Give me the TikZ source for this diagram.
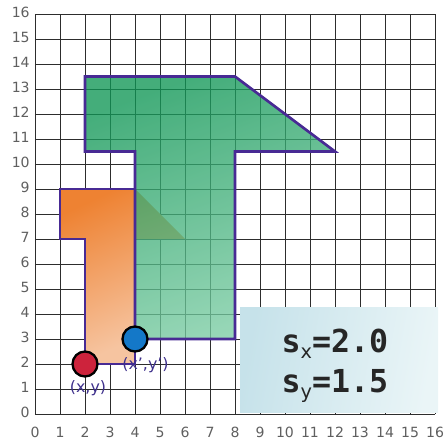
\documentclass[tikz,border=0pt]{standalone}
\usepackage{fontspec}
\setsansfont{DejaVu Sans}
\setmonofont{DejaVu Sans Mono}
\usetikzlibrary{positioning}
\definecolor{gridgray}{RGB}{45, 45, 45}
\definecolor{ticktext}{RGB}{95, 95, 95}
\definecolor{edgepurple}{RGB}{72, 42, 148}
\definecolor{orangedark}{RGB}{238, 130, 50}
\definecolor{orangelight}{RGB}{246, 196, 160}
\definecolor{greendark}{RGB}{15, 150, 85}
\definecolor{greenlight}{RGB}{125, 205, 165}
\definecolor{boxblue}{RGB}{198, 226, 234}
\definecolor{boxlight}{RGB}{234, 245, 247}
\definecolor{dotred}{RGB}{205, 35, 60}
\definecolor{dotblue}{RGB}{20, 120, 200}
\definecolor{labelpurple}{RGB}{62, 48, 140}

\tikzset{
  gridline/.style={gridgray, line width=0.55pt},
  ticklabel/.style={ticktext, font=\sffamily\fontsize{8}{8}\selectfont, inner sep=0pt},
  outline/.style={edgepurple, line width=1.5pt, line join=miter},
  dot/.style={circle, draw=black, line width=1.3pt, minimum size=0.5cm, inner sep=0pt},
  dotlabel/.style={labelpurple, font=\sffamily\fontsize{9}{9}\selectfont, inner sep=0pt},
  scaletext/.style={black!85, font=\ttfamily\bfseries\fontsize{18}{18}\selectfont, inner sep=0pt}
}

\begin{document}
\begin{tikzpicture}[x=0.5cm, y=0.5cm]
  \useasboundingbox (-1.4,-1.28) rectangle (16.4,16.56);

  % grid and numbers
  \draw[gridline, step=0.5cm] (0,0) grid (16,16);
  \foreach \k in {0,...,16} {
    \node[ticklabel, left] (ylab\k) at (-0.2,\k) {\strut\k};
    \node[ticklabel, below] (xlab\k) at (\k,-0.5) {\strut\k};
  }

  % original shape (orange), its flag lies under the green one
  \fill[orangedark!85!orangelight] (4,9) -- (6,7) -- (4,7) -- cycle;
  \shade[top color=orangedark, bottom color=orangelight, shading angle=25]
    (1,9) -- (4,9) -- (4,2) -- (2,2) -- (2,7) -- (1,7) -- cycle;

  % scaled shape (green, see-through)
  \shade[top color=greendark, bottom color=greenlight, shading angle=20, opacity=0.78]
    (2,13.5) -- (8,13.5) -- (12,10.5) -- (8,10.5) -- (8,3) -- (4,3) -- (4,10.5) -- (2,10.5) -- cycle;

  % outlines
  \draw[outline] (1,9) -- (4,9) -- (4,2) -- (2,2) -- (2,7) -- (1,7) -- cycle;
  \draw[outline] (2,13.5) -- (8,13.5) -- (12,10.5) -- (8,10.5) -- (8,3) -- (4,3) -- (4,10.5) -- (2,10.5) -- cycle;

  % scale factors
  \shade[left color=boxblue, right color=boxlight, shading angle=80]
    (8.2,0.04) rectangle (16.12,4.24);
  \node[scaletext, anchor=base west] (sxtext) at (9.85,2.44)
    {s\raisebox{-0.3ex}{\sffamily\mdseries\fontsize{11}{11}\selectfont x}=2.0};
  \node[scaletext, anchor=base west] (sytext) at (9.85,0.84)
    {s\raisebox{-0.3ex}{\sffamily\mdseries\fontsize{11}{11}\selectfont y}=1.5};

  % point and its image
  \node[dot, fill=dotred] (origpt) at (2,2) {};
  \node[dot, fill=dotblue] (imagept) at (4,3) {};
  \node[dotlabel] (origlab) at (2.12,1.04) {(x,y)};
  \node[dotlabel] (imagelab) at (4.42,1.96) {(x',y')};

\end{tikzpicture}
\end{document}
